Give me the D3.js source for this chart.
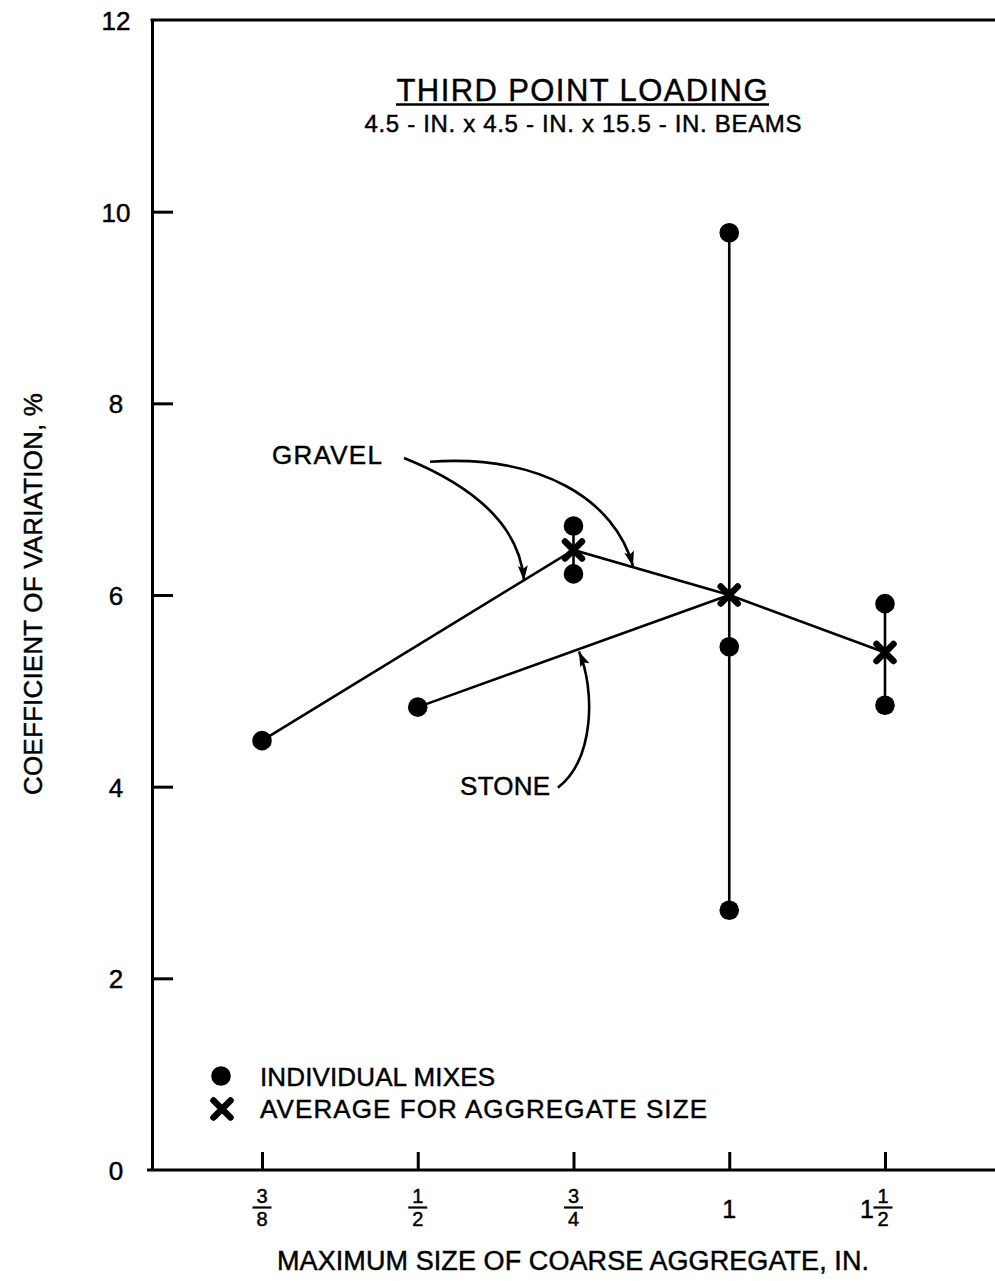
<!DOCTYPE html>
<html>
<head>
<meta charset="utf-8">
<script src="https://cdn.jsdelivr.net/npm/d3@7"></script>
<style>
  body { margin: 0; background: #fff; }
  svg { display: block; }
  text { font-family: "Liberation Sans", Arial, Helvetica, sans-serif; fill: #000; stroke: #000; stroke-width: 0.45px; }
</style>
</head>
<body>
<svg id="chart" width="995" height="1281"></svg>
<script>
// Maximum aggregate size categories (x axis) and their tick labels
const sizes = ["3/8", "1/2", "3/4", "1", "1 1/2"];
const yTicks = [0, 2, 4, 6, 8, 10, 12];

// Individual mixes: coefficient of variation, %
const mixSize = ["3/8", "1/2", "3/4", "3/4", "1", "1", "1", "1 1/2", "1 1/2"];
const mixCV   = [4.48, 4.83, 6.72, 6.22, 9.78, 5.46, 2.71, 5.91, 4.85];

// Average for aggregate size
const avgSize = ["3/4", "1", "1 1/2"];
const avgCV   = [6.47, 6.00, 5.40];

// Spread of individual mixes at each size
const spreadSize = ["3/4", "1", "1 1/2"];
const spreadLow  = [6.22, 2.71, 4.85];
const spreadHigh = [6.72, 9.78, 5.91];

// Trend lines
const gravelSize = ["3/8", "3/4", "1", "1 1/2"];
const gravelCV   = [4.48, 6.47, 6.00, 5.40];
const stoneSize  = ["1/2", "1"];
const stoneCV    = [4.83, 6.00];

const svg = d3.select("#chart");

const x = d3.scalePoint().domain(sizes).range([262, 885]);
const y = d3.scaleLinear().domain([0, 12]).range([1170, 20]);
// continuous position along the category axis, for callout curves
const xi = d3.scaleLinear().domain([0, sizes.length - 1]).range(x.range());

const axisLeftX = 152;
const frameRight = 995;

// ---- frame: y axis, top edge, x baseline ----
const yAxis = d3.axisLeft(y)
  .tickValues(yTicks)
  .tickSize(-21)
  .tickSizeOuter(0)
  .tickPadding(0)
  .tickFormat(d3.format("d"));

const gy = svg.append("g")
  .attr("transform", `translate(${axisLeftX},0)`)
  .call(yAxis);
gy.select(".domain").attr("stroke", "#000").attr("stroke-width", 3);
gy.selectAll(".tick line")
  .attr("stroke", "#000").attr("stroke-width", 3)
  .filter(d => d === 0 || d === 12).remove();
gy.selectAll(".tick text")
  .attr("x", -36).attr("dy", "0.36em")
  .attr("text-anchor", "middle")
  .style("font-size", "26px")
  .style("font-family", "'Liberation Sans', Arial, sans-serif");

svg.append("line")
  .attr("x1", axisLeftX - 1.5).attr("x2", frameRight)
  .attr("y1", y(12)).attr("y2", y(12))
  .attr("stroke", "#000").attr("stroke-width", 3);

svg.append("line")
  .attr("x1", axisLeftX - 5).attr("x2", frameRight)
  .attr("y1", y(0)).attr("y2", y(0))
  .attr("stroke", "#000").attr("stroke-width", 3);

const xAxis = d3.axisBottom(x).tickSize(-18).tickSizeOuter(0).tickFormat("");
const gx = svg.append("g")
  .attr("transform", `translate(0,${y(0)})`)
  .call(xAxis);
gx.select(".domain").remove();
gx.selectAll(".tick line").attr("stroke", "#000").attr("stroke-width", 3);

// fraction-style tick labels
const tickLabels = svg.append("g");
sizes.forEach(s => {
  const cx = x(s);
  const parts = s.split(" ");
  let whole = null, frac = null;
  parts.forEach(p => { if (p.includes("/")) frac = p.split("/"); else whole = p; });
  const fx = whole && frac ? cx - 2 : cx;
  if (whole) {
    tickLabels.append("text")
      .attr("x", frac ? cx - 18 : cx)
      .attr("y", 1218)
      .attr("text-anchor", "middle")
      .style("font-size", "25px")
      .text(whole);
  }
  if (frac) {
    tickLabels.append("text")
      .attr("x", fx).attr("y", 1203)
      .attr("text-anchor", "middle")
      .style("font-size", "20px")
      .text(frac[0]);
    tickLabels.append("line")
      .attr("x1", fx - 9.5).attr("x2", fx + 9.5)
      .attr("y1", 1207.5).attr("y2", 1207.5)
      .attr("stroke", "#000").attr("stroke-width", 2.2);
    tickLabels.append("text")
      .attr("x", fx).attr("y", 1226)
      .attr("text-anchor", "middle")
      .style("font-size", "20px")
      .text(frac[1]);
  }
});

// ---- axis titles ----
svg.append("text")
  .attr("x", 573).attr("y", 1270)
  .attr("text-anchor", "middle")
  .attr("textLength", 592).attr("lengthAdjust", "spacing")
  .style("font-size", "27px")
  .text("MAXIMUM SIZE OF COARSE AGGREGATE, IN.");

svg.append("text")
  .attr("transform", "translate(42,594) rotate(-90)")
  .attr("text-anchor", "middle")
  .attr("textLength", 402).attr("lengthAdjust", "spacing")
  .style("font-size", "26px")
  .text("COEFFICIENT OF VARIATION, %");

// ---- chart title ----
svg.append("text")
  .attr("x", 582).attr("y", 101)
  .attr("text-anchor", "middle")
  .attr("textLength", 371).attr("lengthAdjust", "spacing")
  .style("font-size", "31px")
  .text("THIRD POINT LOADING");
svg.append("line")
  .attr("x1", 396).attr("x2", 769)
  .attr("y1", 104.5).attr("y2", 104.5)
  .attr("stroke", "#000").attr("stroke-width", 2.4);
svg.append("text")
  .attr("x", 583).attr("y", 132)
  .attr("text-anchor", "middle")
  .attr("textLength", 437).attr("lengthAdjust", "spacing")
  .style("font-size", "24px")
  .text("4.5 - IN. x 4.5 - IN. x 15.5 - IN.  BEAMS");

// ---- data ----
const line = d3.line().x(d => x(d[0])).y(d => y(d[1]));
const plot = svg.append("g");

plot.append("path")
  .datum(d3.zip(gravelSize, gravelCV))
  .attr("d", line)
  .attr("fill", "none").attr("stroke", "#000").attr("stroke-width", 2.6);

plot.append("path")
  .datum(d3.zip(stoneSize, stoneCV))
  .attr("d", line)
  .attr("fill", "none").attr("stroke", "#000").attr("stroke-width", 2.6);

plot.selectAll("line.spread")
  .data(d3.zip(spreadSize, spreadLow, spreadHigh))
  .join("line")
  .attr("class", "spread")
  .attr("x1", d => x(d[0])).attr("x2", d => x(d[0]))
  .attr("y1", d => y(d[1])).attr("y2", d => y(d[2]))
  .attr("stroke", "#000").attr("stroke-width", 2.6);

plot.selectAll("circle.mix")
  .data(d3.zip(mixSize, mixCV))
  .join("circle")
  .attr("class", "mix")
  .attr("cx", d => x(d[0])).attr("cy", d => y(d[1]))
  .attr("r", 9.8)
  .attr("fill", "#000");

const crossPath = "M-8.5,-8.5L8.5,8.5M-8.5,8.5L8.5,-8.5";
plot.selectAll("path.avg")
  .data(d3.zip(avgSize, avgCV))
  .join("path")
  .attr("class", "avg")
  .attr("transform", d => `translate(${x(d[0])},${y(d[1])})`)
  .attr("d", crossPath)
  .attr("fill", "none").attr("stroke", "#000")
  .attr("stroke-width", 6.5).attr("stroke-linecap", "round");

// ---- callouts ----
svg.append("defs").append("marker")
  .attr("id", "head")
  .attr("viewBox", "-16 -6 18 12")
  .attr("refX", 0).attr("refY", 0)
  .attr("markerWidth", 18).attr("markerHeight", 12)
  .attr("markerUnits", "userSpaceOnUse")
  .attr("orient", "auto")
  .append("path")
  .attr("d", "M0,0L-15,-5L-12,0L-15,5Z")
  .attr("fill", "#000");

// callout curves in (category position, CV) coordinates
const gravelCurve1 = [[0.912, 7.43], [1.400, 7.11], [1.656, 6.69], [1.682, 6.15]];
const gravelCurve2 = [[1.079, 7.39], [1.785, 7.47], [2.266, 7.00], [2.382, 6.30]];
const stoneCurve   = [[1.900, 3.99], [2.138, 4.29], [2.138, 5.02], [2.035, 5.41]];

function bezier(pts) {
  const p = pts.map(d => [xi(d[0]), y(d[1])]);
  return `M${p[0]}C${p[1]} ${p[2]} ${p[3]}`;
}
[gravelCurve1, gravelCurve2, stoneCurve].forEach(c => {
  svg.append("path")
    .attr("d", bezier(c))
    .attr("fill", "none").attr("stroke", "#000").attr("stroke-width", 2.6)
    .attr("marker-end", "url(#head)");
});

svg.append("text")
  .attr("x", xi(0.064)).attr("y", y(7.37))
  .attr("textLength", 110).attr("lengthAdjust", "spacing")
  .style("font-size", "26px")
  .text("GRAVEL");
svg.append("text")
  .attr("x", xi(1.272)).attr("y", y(3.91))
  .attr("textLength", 90).attr("lengthAdjust", "spacing")
  .style("font-size", "26px")
  .text("STONE");

// ---- legend ----
const legend = svg.append("g");
legend.append("circle").attr("cx", 221).attr("cy", 1076).attr("r", 9.8).attr("fill", "#000");
legend.append("path")
  .attr("transform", "translate(222,1109)")
  .attr("d", crossPath)
  .attr("fill", "none").attr("stroke", "#000")
  .attr("stroke-width", 6.5).attr("stroke-linecap", "round");
legend.append("text")
  .attr("x", 260).attr("y", 1086)
  .attr("textLength", 235).attr("lengthAdjust", "spacing")
  .style("font-size", "26px")
  .text("INDIVIDUAL MIXES");
legend.append("text")
  .attr("x", 260).attr("y", 1118)
  .attr("textLength", 447).attr("lengthAdjust", "spacing")
  .style("font-size", "26px")
  .text("AVERAGE FOR AGGREGATE SIZE");
</script>
</body>
</html>
